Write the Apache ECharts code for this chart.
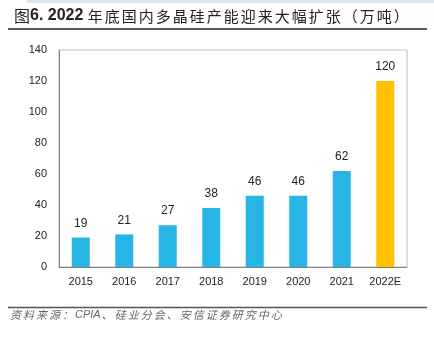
<!DOCTYPE html>
<html>
<head>
<meta charset="utf-8">
<style>
  html, body { margin: 0; padding: 0; background: #fff; }
  #chart { width: 434px; height: 339px; }
</style>
<script src="https://cdn.jsdelivr.net/npm/echarts@6/dist/echarts.min.js"></script>
</head>
<body>
<div id="chart"></div>
<script>
// 国内多晶硅产能（万吨）
const years = ['2015', '2016', '2017', '2018', '2019', '2020', '2021', '2022E'];
const capacity = [19, 21, 27, 38, 46, 46, 62, 120];
const yTicks = [0, 20, 40, 60, 80, 100, 120, 140];

const BLUE = '#27B5E6';
const GOLD = '#FFC000';
const cjk = '"Noto Sans CJK SC", "Noto Sans", sans-serif';
const latin = 'Arial, "Liberation Sans", sans-serif';

// Spread CJK characters apart: one rich token per character, with a small right padding
function spaced(str, style) {
  return Array.from(str).map(ch => '{' + style + '|' + ch + '}').join('');
}

const titleText = '{a|图}{n|6. }{b|2022 }' + spaced('年底国内多晶硅产能迎来大幅扩张（万吨）', 'c');
const footText = spaced('资料来源：', 'f') + '{g|CPIA}' + spaced('、硅业分会、安信证券研究中心', 'f');

const chart = echarts.init(document.getElementById('chart'), null, { renderer: 'canvas' });

chart.setOption({
  animation: false,
  backgroundColor: '#fff',
  title: {
    text: titleText,
    left: 9,
    top: 3,
    textStyle: {
      rich: {
        a: { fontFamily: cjk, fontSize: 16, fontWeight: 'normal', color: '#222' },
        n: { fontFamily: latin, fontSize: 16, fontWeight: 'bold', color: '#222' },
        b: { fontFamily: latin, fontSize: 16, fontWeight: 'bold', color: '#222' },
        c: { fontFamily: cjk, fontSize: 15, fontWeight: 'normal', color: '#222', padding: [0, 2, 0, 0] }
      }
    }
  },
  graphic: [
    { type: 'rect', shape: { x: 27, y: 0, width: 407, height: 3 }, style: { fill: '#DCE6F2' } },
    { type: 'line', shape: { x1: 8, y1: 29, x2: 427, y2: 29 }, style: { stroke: '#222', lineWidth: 1.5 } },
    { type: 'line', shape: { x1: 8, y1: 307.5, x2: 427, y2: 307.5 }, style: { stroke: '#555', lineWidth: 1.5 } },
    {
      type: 'text', left: 10, top: 309,
      style: {
        text: footText,
        rich: {
          f: { fontFamily: cjk, fontSize: 11, fontStyle: 'italic', fill: '#666', padding: [0, 2, 0, 0] },
          g: { fontFamily: latin, fontSize: 11, fontStyle: 'italic', fill: '#666', padding: [0, 1, 0, 0] }
        }
      }
    }
  ],
  grid: {
    left: 59, right: 27, top: 50, bottom: 72,
    show: true, borderColor: '#BFBFBF', borderWidth: 1
  },
  xAxis: {
    type: 'category',
    data: years,
    axisLine: { show: true, lineStyle: { color: '#7F7F7F', width: 1 } },
    axisTick: { show: false },
    axisLabel: { color: '#222', fontSize: 11, fontFamily: latin, margin: 9 }
  },
  yAxis: {
    type: 'value',
    min: yTicks[0],
    max: yTicks[yTicks.length - 1],
    interval: yTicks[1] - yTicks[0],
    splitLine: { show: false },
    axisLine: { show: true, lineStyle: { color: '#7F7F7F' } },
    axisTick: { show: false },
    axisLabel: { color: '#222', fontSize: 11, fontFamily: latin, margin: 12 }
  },
  series: [{
    type: 'bar',
    data: capacity.map((v, i) => ({
      value: v,
      itemStyle: { color: i === capacity.length - 1 ? GOLD : BLUE }
    })),
    barWidth: 18,
    label: {
      show: true,
      position: 'top',
      distance: 8,
      color: '#222',
      fontSize: 12,
      fontFamily: latin
    }
  }]
});
</script>
</body>
</html>
